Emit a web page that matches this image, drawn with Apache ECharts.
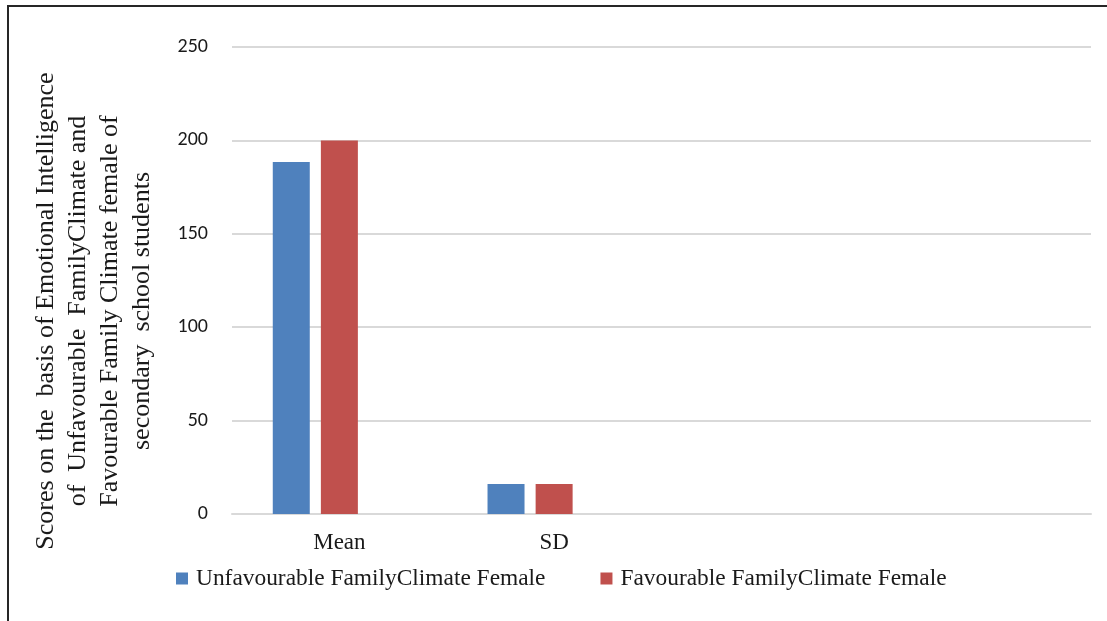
<!DOCTYPE html>
<html>
<head>
<meta charset="utf-8">
<script src="https://cdn.jsdelivr.net/npm/echarts@6/dist/echarts.min.js"></script>
<style>
  html, body { margin: 0; padding: 0; background: #fff; }
  #frame { position: absolute; left: 7px; top: 5px; width: 1100px; height: 616px;
           border-left: 2px solid #262626; border-top: 2px solid #262626; box-sizing: border-box; }
  #chart { position: absolute; left: 0; top: 0; width: 1107px; height: 621px; }
</style>
</head>
<body>
<div id="frame"></div>
<div id="chart"></div>
<script>
// Categories along the x axis (two trailing slots stay empty)
const categories = ['Mean', 'SD', '', ''];
// Scores for each family-climate group
const unfavourableFemale = [188.5, 16, null, null];
const favourableFemale = [200, 16, null, null];
// Third slot in each group is reserved and left empty
const reservedSlot = [null, null, null, null];
// Value axis ticks
const yTicks = [0, 50, 100, 150, 200, 250];
// Value axis title, one entry per line
const yTitleLines = [
  'Scores on the  basis of Emotional Intelligence',
  'of  Unfavourable  FamilyClimate and',
  'Favourable Family Climate female of',
  'secondary  school students'
];

const serif = '"Liberation Serif", "Times New Roman", serif';
const sans = 'Carlito, "Open Sans", "DejaVu Sans", sans-serif';

const chart = echarts.init(document.getElementById('chart'));
chart.setOption({
  animation: false,
  grid: { left: 232, right: 16, top: 47, bottom: 107, containLabel: false, outerBoundsMode: 'none' },
  graphic: [{
    type: 'text',
    x: 94, y: 311,
    rotation: Math.PI / 2,
    style: {
      text: yTitleLines.join('\n'),
      font: '26px ' + serif,
      fill: '#1a1a1a',
      lineHeight: 32,
      align: 'center',
      verticalAlign: 'middle'
    }
  }],
  legend: {
    data: ['Unfavourable FamilyClimate Female', 'Favourable FamilyClimate Female'],
    left: 171, top: 562,
    itemWidth: 12, itemHeight: 12, itemGap: 55,
    icon: 'rect',
    textStyle: { fontFamily: serif, fontSize: 23.4, color: '#1a1a1a', padding: [0, 0, 0, 3] }
  },
  xAxis: {
    type: 'category',
    data: categories,
    axisLine: { lineStyle: { color: '#d9d9d9', width: 2 } },
    axisTick: { show: false },
    axisLabel: { fontFamily: serif, fontSize: 23, color: '#1a1a1a', margin: 17 }
  },
  yAxis: {
    type: 'value',
    min: yTicks[0], max: yTicks[yTicks.length - 1], interval: 50,
    axisLine: { show: false },
    axisTick: { show: false },
    axisLabel: { fontFamily: sans, fontSize: 20, color: '#1a1a1a', margin: 24 },
    splitLine: { lineStyle: { color: '#d9d9d9', width: 2 } }
  },
  series: [
    {
      name: 'Unfavourable FamilyClimate Female', type: 'bar',
      data: unfavourableFemale, barWidth: 37, barGap: '30%',
      itemStyle: { color: '#4f81bd' }
    },
    {
      name: 'Favourable FamilyClimate Female', type: 'bar',
      data: favourableFemale, barWidth: 37, barGap: '30%',
      itemStyle: { color: '#c0504d' }
    },
    {
      name: 'reserved', type: 'bar',
      data: reservedSlot, barWidth: 37, barGap: '30%',
      itemStyle: { color: '#9bbb59' }
    }
  ]
});
</script>
</body>
</html>
